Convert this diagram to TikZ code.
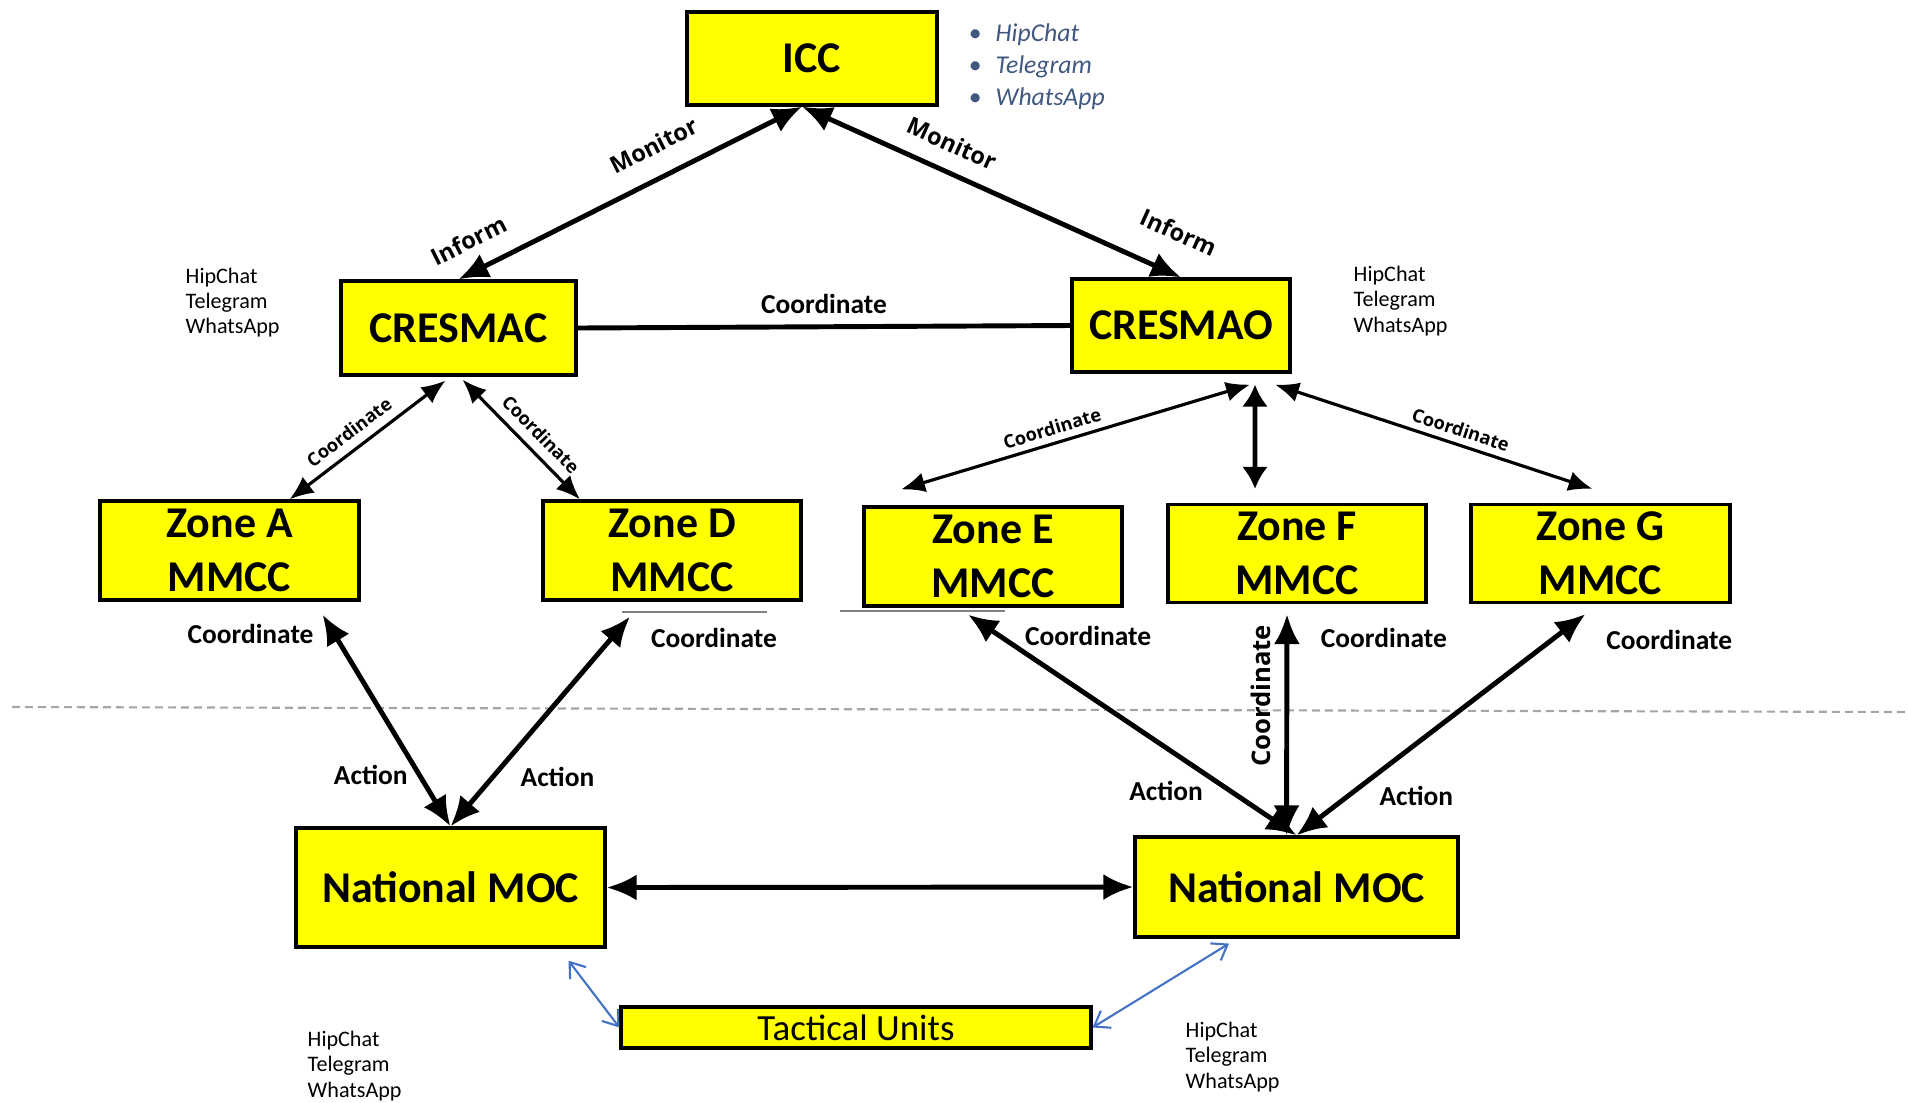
\documentclass[tikz,border=0pt]{standalone}
\usepackage{fontspec}
\setmainfont{Carlito}
\newfontfamily\opensans{Open Sans}
\usetikzlibrary{arrows.meta}
\definecolor{boxyellow}{RGB}{255,255,0}
\definecolor{listblue}{RGB}{64,88,128}
\definecolor{linkblue}{RGB}{68,114,196}
\definecolor{cutgray}{RGB}{165,165,165}
\tikzset{
	box/.style={draw=black,line width=0.9pt,fill=boxyellow,inner sep=0pt,align=center,font=\fontsize{12.5}{15.4}\selectfont\bfseries},
	twoway/.style={line width=1.4pt,{Latex[length=3mm,width=2.6mm]}-{Latex[length=3mm,width=2.6mm]}},
	thinway/.style={line width=0.9pt,{Latex[length=2.4mm,width=2mm]}-{Latex[length=2.4mm,width=2mm]}},
	blueway/.style={linkblue,line width=0.6pt,{Straight Barb[length=1.4mm,width=2mm]}-{Straight Barb[length=1.4mm,width=2mm]}},
	lbl/.style={inner sep=1pt,font=\fontsize{7.8}{9}\selectfont\bfseries},
	tag/.style={inner sep=1pt,font=\opensans\fontsize{6.7}{8}\selectfont\bfseries},
	smalltag/.style={inner sep=1pt,font=\opensans\fontsize{5.2}{6}\selectfont\bfseries},
	chatlist/.style={anchor=west,inner sep=0pt,align=left,font=\fontsize{6.3}{7.2}\selectfont}
}
\begin{document}
\begin{tikzpicture}
	\useasboundingbox (0,0) rectangle (19.08,-11.02);
	
	\node[box,minimum width=2.5cm,minimum height=0.93cm] (icc) at (8.12,-0.585) {ICC};
	\node[box,minimum width=2.35cm,minimum height=0.94cm] (cresmac) at (4.585,-3.28) {CRESMAC};
	\node[box,minimum width=2.18cm,minimum height=0.93cm] (cresmao) at (11.81,-3.255) {CRESMAO};
	
	\node[box,minimum width=2.59cm,minimum height=0.99cm] (zoneA) at (2.295,-5.505) {Zone A\\MMCC};
	\node[box,minimum width=2.58cm,minimum height=0.99cm] (zoneD) at (6.72,-5.505) {Zone D\\MMCC};
	\node[box,minimum width=2.58cm,minimum height=0.99cm] (zoneE) at (9.93,-5.565) {Zone E\\MMCC};
	\node[box,minimum width=2.58cm,minimum height=0.98cm] (zoneF) at (12.97,-5.535) {Zone F\\MMCC};
	\node[box,minimum width=2.59cm,minimum height=0.98cm] (zoneG) at (16.005,-5.535) {Zone G\\MMCC};
	
	\node[box,minimum width=3.09cm,minimum height=1.19cm] (mocL) at (4.505,-8.875) {National MOC};
	\node[box,minimum width=3.23cm,minimum height=1.0cm] (mocR) at (12.965,-8.87) {National MOC};
	\node[box,minimum width=4.7cm,minimum height=0.41cm,font=\fontsize{10.5}{12}\selectfont] (tactical) at (8.56,-10.275) {Tactical Units};
	
	\node[chatlist,text=listblue,font=\fontsize{7.3}{9.2}\selectfont\itshape] (icclist) at (9.68,-0.665) {\makebox[2.7mm][l]{\textbullet}HipChat\\\makebox[2.7mm][l]{\textbullet}Telegram\\\makebox[2.7mm][l]{\textbullet}WhatsApp};
	\node[chatlist] (chatA) at (1.85,-3.025) {HipChat\\Telegram\\WhatsApp};
	\node[chatlist] (chatB) at (13.53,-3.01) {HipChat\\Telegram\\WhatsApp};
	\node[chatlist] (chatC) at (3.07,-10.66) {HipChat\\Telegram\\WhatsApp};
	\node[chatlist] (chatD) at (11.85,-10.57) {HipChat\\Telegram\\WhatsApp};
	
	\draw[cutgray,line width=0.6pt,dash pattern=on 0.8mm off 0.5mm] (0.12,-7.07) -- (19.08,-7.12);
	\draw[gray,line width=0.4pt] (6.22,-6.12) -- (7.67,-6.12);
	\draw[gray,line width=0.4pt] (8.40,-6.11) -- (10.05,-6.11);
	
	\draw[twoway] (cresmac.north) -- node[tag,sloped,pos=0.07,above=1.5mm] {Inform} node[tag,sloped,pos=0.61,above=1.7mm] {Monitor} ([xshift=-1mm]icc.south);
	\draw[twoway] ([xshift=-1mm]icc.south) -- node[tag,sloped,pos=0.365,above=1.3mm] {Monitor} node[tag,sloped,pos=0.95,above=2.5mm] {Inform} (cresmao.north);
	\draw[line width=1.4pt] (cresmac.east) -- node[lbl,above=0.75mm] {Coordinate} (cresmao.west);
	
	\draw[thinway] ([xshift=6mm]zoneA.north) -- node[smalltag,sloped,pos=0.45,above=0.55mm] {Coordinate} ([xshift=-1.3mm,yshift=-0.4mm]cresmac.south);
	\draw[thinway] ([xshift=0.4mm,yshift=-0.3mm]cresmac.south) -- node[smalltag,sloped,pos=0.56,above=0.55mm] {Coordinate} ([xshift=-9.2mm]zoneD.north);
	\draw[thinway] ([xshift=-9.2mm,yshift=1.6mm]zoneE.north) -- node[smalltag,sloped,pos=0.445,above=0.3mm] {Coordinate} ([xshift=6.9mm,yshift=-1.1mm]cresmao.south);
	\draw[twoway,{Latex[length=2.2mm,width=2.6mm]}-{Latex[length=2.2mm,width=2.6mm]}] ([xshift=7.4mm,yshift=-1.1mm]cresmao.south) -- ([xshift=-4.2mm,yshift=1.4mm]zoneF.north);
	\draw[thinway] ([xshift=9.4mm,yshift=-1.1mm]cresmao.south) -- node[smalltag,sloped,pos=0.57,above=0.3mm] {Coordinate} ([xshift=-0.8mm,yshift=1.4mm]zoneG.north);
	
	\draw[twoway] ([xshift=9.3mm,yshift=-1.3mm]zoneA.south) -- node[lbl,pos=0.093,left=1.5mm] {Coordinate} node[lbl,pos=0.758,left=0.6mm] {Action} (mocL.north);
	\draw[twoway] ([xshift=-4.2mm,yshift=-1.5mm]zoneD.south) -- node[lbl,pos=0.1,right=3.3mm] {Coordinate} node[lbl,pos=0.765,right=2.2mm] {Action} (mocL.north);
	\draw[twoway] ([xshift=-2.5mm,yshift=-0.7mm]zoneE.south) -- node[lbl,pos=0.098,right=1.9mm] {Coordinate} node[lbl,pos=0.8,left=2.2mm] {Action} (mocR.north);
	\draw[twoway] ([xshift=-1mm]mocR.north) -- node[tag,font=\opensans\fontsize{7.3}{8}\selectfont\bfseries,sloped,pos=0.63,above=1mm] {Coordinate} node[lbl,pos=0.89,right=2.8mm] {Coordinate} ([xshift=-1mm,yshift=-1mm]zoneF.south);
	\draw[twoway] ([xshift=-1.5mm,yshift=-1mm]zoneG.south) -- node[lbl,pos=0.115,right=4.8mm] {Coordinate} node[lbl,pos=0.82,right=2.5mm] {Action} (mocR.north);
	
	\draw[twoway] (mocL.east) -- (mocR.west);
	\draw[blueway] ([xshift=11.8mm,yshift=-1.2mm]mocL.south) -- (tactical.west);
	\draw[blueway] (tactical.east) -- ([xshift=-6.75mm,yshift=-0.5mm]mocR.south);
\end{tikzpicture}
\end{document}
